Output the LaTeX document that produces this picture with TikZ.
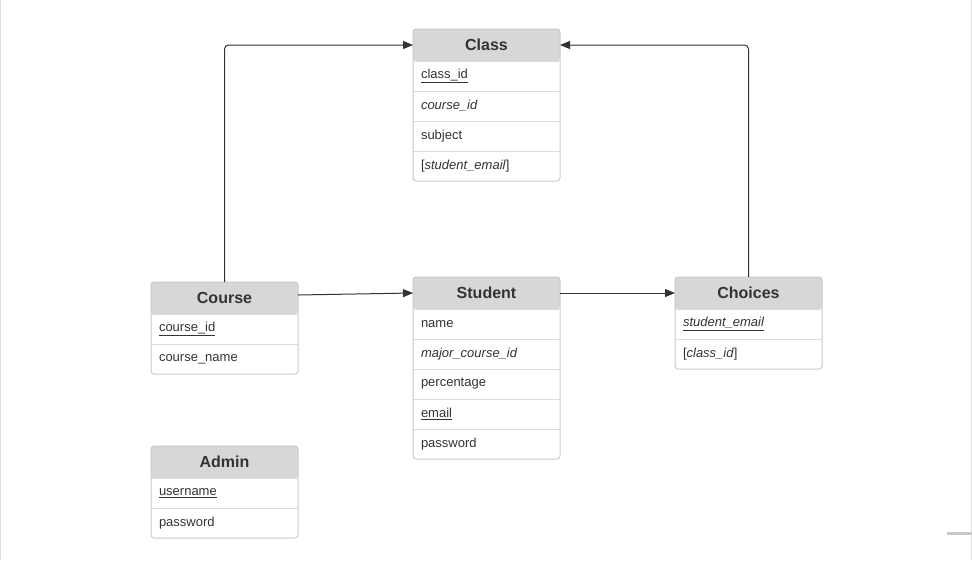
\documentclass[tikz,border=0pt]{standalone}
\usepackage{fontspec}
\setmainfont{Liberation Sans}
\usetikzlibrary{arrows.meta, positioning, fit}
\definecolor{headgray}{HTML}{D7D7D7}
\definecolor{framegray}{HTML}{C9C9C9}
\definecolor{rulegray}{HTML}{DDDDDD}
\definecolor{inkgray}{HTML}{333333}
\tikzstyle{head} = [rectangle, rounded corners=3pt, minimum width=147pt, minimum height=32pt, inner sep=0pt, outer sep=0pt, fill=headgray, text=inkgray, font=\fontsize{16}{19}\selectfont\bfseries]
\tikzstyle{row} = [rectangle, minimum height=30pt, text width=131pt, inner xsep=8pt, inner ysep=0pt, outer sep=0pt, align=left, text=inkgray, font=\fontsize{13}{15}\selectfont, path picture={\draw[rulegray, line width=2pt] (path picture bounding box.north west) -- (path picture bounding box.north east);}]
\tikzstyle{frame} = [rectangle, rounded corners=3pt, draw=framegray, inner sep=0pt]
\tikzstyle{arrow} = [draw=inkgray, ->, >={Triangle[length=10pt, width=8pt]}, rounded corners=4pt]

\begin{document}
\begin{tikzpicture}[x=1pt, y=-1pt, line width=1pt, node distance=0pt]
	\useasboundingbox (0,0) rectangle (972,560);

	% Class
	\node (class) [head] at (486.5,45) {Class};
	\node (class1) [row, below=of class] {\underline{class\_id}};
	\node (class2) [row, below=of class1] {\textit{course\_id}};
	\node (class3) [row, below=of class2] {subject};
	\node (class4) [row, below=of class3] {[\textit{student\_email}]};
	\node [frame, fit=(class)(class4)] {};

	% Course
	\node (course) [head] at (224.5,298) {Course};
	\node (course1) [row, below=of course] {\underline{course\_id}};
	\node (course2) [row, below=of course1] {course\_name};
	\node [frame, fit=(course)(course2)] {};

	% Student
	\node (student) [head] at (486.5,293) {Student};
	\node (student1) [row, below=of student] {name};
	\node (student2) [row, below=of student1] {\textit{major\_course\_id}};
	\node (student3) [row, below=of student2] {percentage};
	\node (student4) [row, below=of student3] {\underline{email}};
	\node (student5) [row, below=of student4] {password};
	\node [frame, fit=(student)(student5)] {};

	% Choices
	\node (choices) [head] at (748.5,293) {Choices};
	\node (choices1) [row, below=of choices] {\underline{\textit{student\_email}}};
	\node (choices2) [row, below=of choices1] {[\textit{class\_id}]};
	\node [frame, fit=(choices)(choices2)] {};

	% Admin
	\node (admin) [head] at (224.5,462) {Admin};
	\node (admin1) [row, below=of admin] {\underline{username}};
	\node (admin2) [row, below=of admin1] {password};
	\node [frame, fit=(admin)(admin2)] {};

	% Arrows
	\draw [arrow] (course.north) |- (class.west);
	\draw [arrow] ([yshift=3pt]course.east) -- (student.west);
	\draw [arrow] (student.east) -- (choices.west);
	\draw [arrow] (choices.north) |- (class.east);

	% Page edges
	\draw [framegray!60] (0.5,0) -- (0.5,560);
	\draw [framegray!60] (971,0) -- (971,560);
	\fill [framegray] (947,532) rectangle (972,535);

\end{tikzpicture}
\end{document}
